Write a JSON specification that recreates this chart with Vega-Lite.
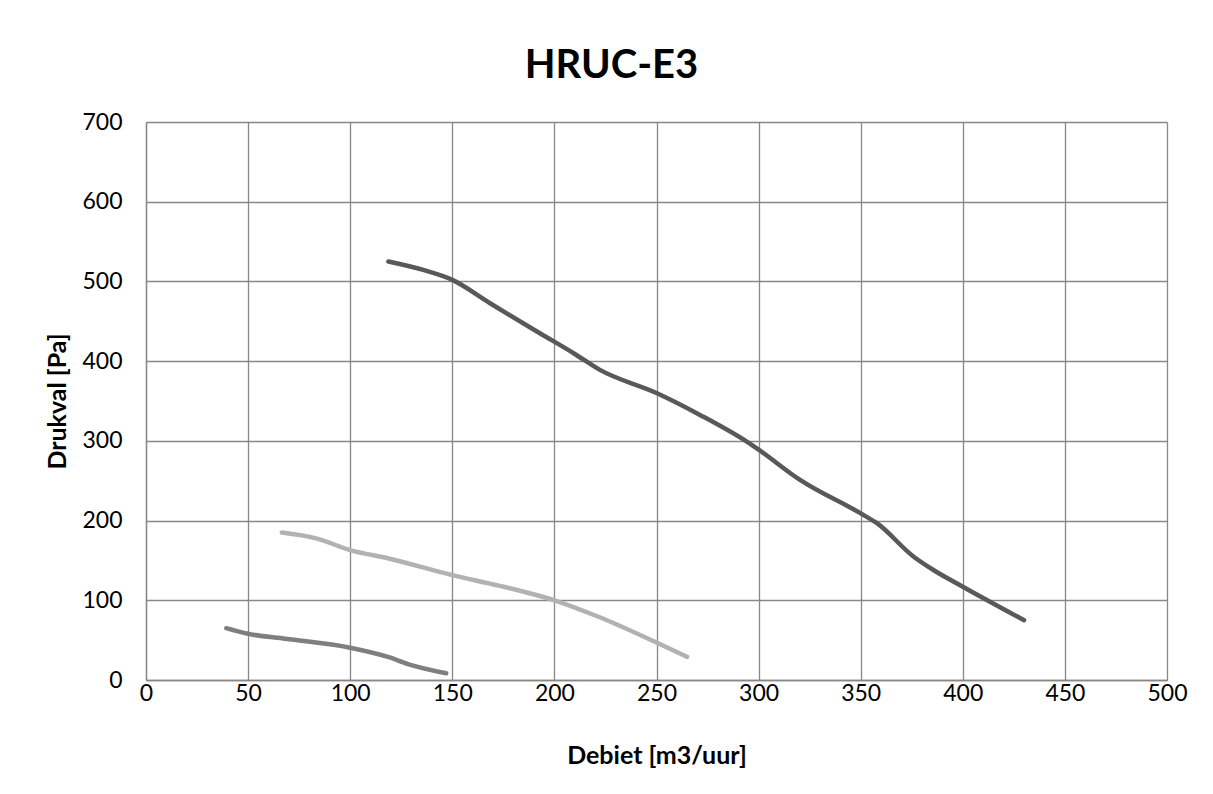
{
  "$schema": "https://vega.github.io/schema/vega-lite/v6.json",
  "width": 1021,
  "height": 558,
  "autosize": {"type": "none"},
  "padding": {"left": 146, "top": 122, "right": 46, "bottom": 114},
  "background": "white",
  "title": {
    "text": "HRUC-E3",
    "font": "Lato",
    "fontSize": 40,
    "fontWeight": "bold",
    "color": "#000000",
    "anchor": "middle",
    "frame": "group",
    "dx": -45,
    "dy": 52,
    "offset": 45,
    "baseline": "alphabetic"
  },
  "data": {
    "values": [
      {"serie": "A", "debiet": 118.7, "drukval": 525},
      {"serie": "A", "debiet": 135.8, "drukval": 514.4},
      {"serie": "A", "debiet": 150, "drukval": 502},
      {"serie": "A", "debiet": 168.5, "drukval": 472.6},
      {"serie": "A", "debiet": 192.9, "drukval": 435},
      {"serie": "A", "debiet": 210, "drukval": 409},
      {"serie": "A", "debiet": 222.3, "drukval": 389},
      {"serie": "A", "debiet": 250, "drukval": 360},
      {"serie": "A", "debiet": 271.3, "drukval": 332.5},
      {"serie": "A", "debiet": 294.2, "drukval": 299},
      {"serie": "A", "debiet": 300, "drukval": 289},
      {"serie": "A", "debiet": 320.3, "drukval": 251},
      {"serie": "A", "debiet": 350, "drukval": 209},
      {"serie": "A", "debiet": 357.8, "drukval": 197},
      {"serie": "A", "debiet": 375.8, "drukval": 155},
      {"serie": "A", "debiet": 385.6, "drukval": 138},
      {"serie": "A", "debiet": 400, "drukval": 117},
      {"serie": "A", "debiet": 430, "drukval": 75},
      {"serie": "B", "debiet": 66.5, "drukval": 185},
      {"serie": "B", "debiet": 83.3, "drukval": 177.7},
      {"serie": "B", "debiet": 100, "drukval": 163},
      {"serie": "B", "debiet": 118.9, "drukval": 152.5},
      {"serie": "B", "debiet": 150, "drukval": 131.5},
      {"serie": "B", "debiet": 173.4, "drukval": 118},
      {"serie": "B", "debiet": 200, "drukval": 100},
      {"serie": "B", "debiet": 221.9, "drukval": 79},
      {"serie": "B", "debiet": 250, "drukval": 47},
      {"serie": "B", "debiet": 265, "drukval": 29},
      {"serie": "C", "debiet": 39.3, "drukval": 65},
      {"serie": "C", "debiet": 50, "drukval": 58},
      {"serie": "C", "debiet": 68.4, "drukval": 51.7},
      {"serie": "C", "debiet": 100, "drukval": 40.5},
      {"serie": "C", "debiet": 118.9, "drukval": 28.6},
      {"serie": "C", "debiet": 128.3, "drukval": 20},
      {"serie": "C", "debiet": 147, "drukval": 8.5}
    ]
  },
  "mark": {
    "type": "line",
    "interpolate": "monotone",
    "strokeWidth": 4.5,
    "strokeCap": "round",
    "strokeJoin": "round"
  },
  "encoding": {
    "x": {
      "field": "debiet",
      "type": "quantitative",
      "scale": {"domain": [0, 500], "nice": false},
      "axis": {
        "title": "Debiet [m3/uur]",
        "values": [0, 50, 100, 150, 200, 250, 300, 350, 400, 450, 500],
        "labelPadding": 2,
        "labelFlush": false,
        "labelOverlap": false,
        "titleY": 83,
        "titleBaseline": "alphabetic"
      }
    },
    "y": {
      "field": "drukval",
      "type": "quantitative",
      "scale": {"domain": [0, 700], "nice": false},
      "axis": {
        "title": "Drukval [Pa]",
        "values": [0, 100, 200, 300, 400, 500, 600, 700],
        "labelPadding": 24,
        "labelFlush": false,
        "labelOverlap": false,
        "titleX": -81,
        "titleY": 279,
        "titleAngle": 270,
        "titleAlign": "center",
        "titleBaseline": "alphabetic"
      }
    },
    "color": {
      "field": "serie",
      "type": "nominal",
      "scale": {"domain": ["A", "B", "C"], "range": ["#595959", "#b2b2b2", "#7f7f7f"]},
      "legend": null
    }
  },
  "config": {
    "view": {"stroke": null},
    "axis": {
      "grid": true,
      "gridColor": "#878787",
      "gridWidth": 1.3,
      "gridOpacity": 1,
      "domainColor": "#878787",
      "domainWidth": 1.3,
      "ticks": false,
      "labelFont": "Lato",
      "labelFontSize": 23,
      "labelColor": "#000000",
      "titleFont": "Lato",
      "titleFontSize": 25,
      "titleFontWeight": "bold",
      "titleColor": "#000000"
    }
  }
}
